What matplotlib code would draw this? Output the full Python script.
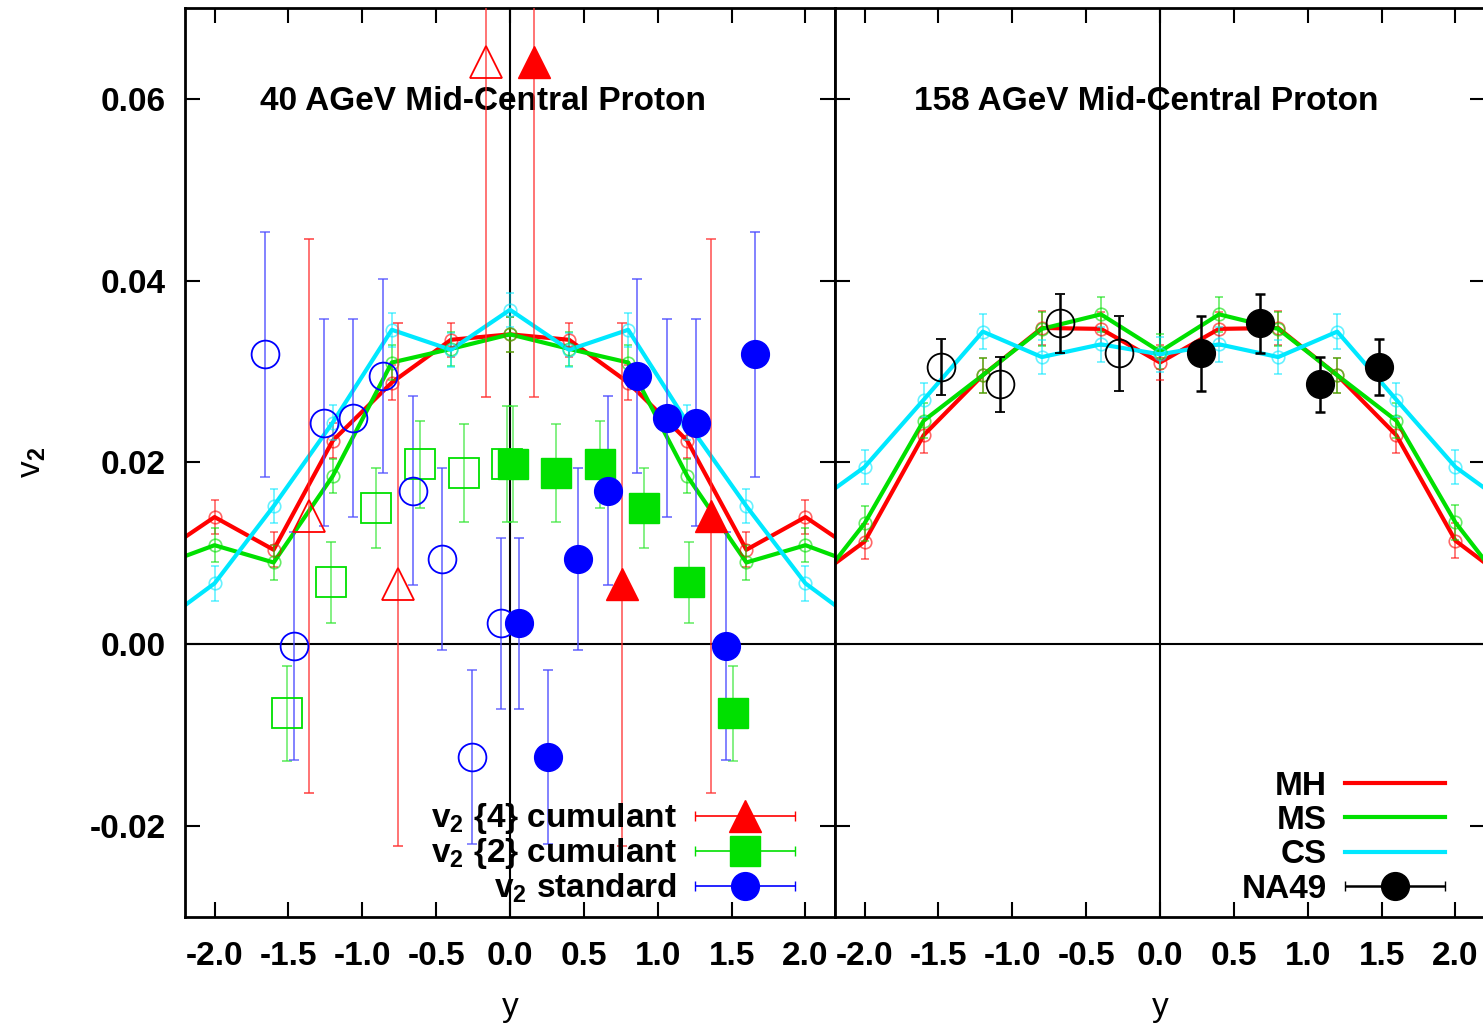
import numpy as np
import matplotlib
matplotlib.use('Agg')
import matplotlib.pyplot as plt
from matplotlib.container import ErrorbarContainer
from matplotlib.legend_handler import HandlerErrorbar
from matplotlib.lines import Line2D
from matplotlib.ticker import FormatStrFormatter

plt.rcParams['font.family'] = ['Liberation Sans', 'DejaVu Sans']
plt.rcParams['font.weight'] = 'bold'
plt.rcParams['mathtext.fontset'] = 'custom'
plt.rcParams['mathtext.rm'] = 'Liberation Sans:bold'
plt.rcParams['mathtext.it'] = 'Liberation Sans:bold'
plt.rcParams['mathtext.bf'] = 'Liberation Sans:bold'

# model rapidity grid (the +-2.4 points only set where the lines leave the frame)
y_model = [-2.4, -2.0, -1.6, -1.2, -0.8, -0.4, 0.0, 0.4, 0.8, 1.2, 1.6, 2.0, 2.4]

mh_40 = [0.0096, 0.0140, 0.0104, 0.0224, 0.0288, 0.0335, 0.0341, 0.0335, 0.0288, 0.0224, 0.0104, 0.0140, 0.0096]
ms_40 = [0.0085, 0.0109, 0.0090, 0.0185, 0.0310, 0.0325, 0.0341, 0.0325, 0.0310, 0.0185, 0.0090, 0.0109, 0.0085]
cs_40 = [0.0019, 0.0067, 0.0152, 0.0244, 0.0346, 0.0324, 0.0368, 0.0324, 0.0346, 0.0244, 0.0152, 0.0067, 0.0019]

mh_158 = [0.0065, 0.0113, 0.0230, 0.0296, 0.0348, 0.0347, 0.0310, 0.0347, 0.0348, 0.0296, 0.0230, 0.0114, 0.0065]
ms_158 = [0.0050, 0.0133, 0.0246, 0.0296, 0.0347, 0.0363, 0.0322, 0.0363, 0.0347, 0.0296, 0.0246, 0.0134, 0.0050]
cs_158 = [0.0148, 0.0195, 0.0269, 0.0344, 0.0316, 0.0330, 0.0319, 0.0330, 0.0316, 0.0344, 0.0269, 0.0195, 0.0148]
model_err = 0.0019

# 40 AGeV data, measured at y>0 (filled); open symbols are the reflection
y_std = [0.06, 0.26, 0.46, 0.66, 0.86, 1.06, 1.26, 1.46, 1.66]
v2_std = [0.0023, -0.0124, 0.0094, 0.0169, 0.0295, 0.0249, 0.0244, -0.0002, 0.0319]
err_std = [0.0094, 0.0096, 0.0100, 0.0104, 0.0107, 0.0109, 0.0114, 0.0125, 0.0135]

y_c2 = [0.02, 0.31, 0.61, 0.91, 1.21, 1.51]
v2_c2 = [0.0198, 0.0188, 0.0198, 0.0150, 0.0068, -0.0076]
err_c2 = [0.0064, 0.0054, 0.0048, 0.0044, 0.0045, 0.0052]

y_c4 = [0.16, 0.76, 1.36]
v2_c4 = [0.0641, 0.0066, 0.0141]
err_c4 = [0.0369, 0.0288, 0.0305]

# NA49 158 AGeV
y_na49 = [0.28, 0.68, 1.08, 1.48]
v2_na49 = [0.0320, 0.0353, 0.0286, 0.0305]
err_na49 = [0.0041, 0.0032, 0.0030, 0.0031]

RED = '#ff0000'
GREEN = '#00e000'
CYAN = '#00e8ff'
BLUE = '#0000ff'

FS = 24

fig = plt.figure(figsize=(14.83, 10.24), dpi=100)
ax1 = fig.add_axes([185/1483, 107/1024, 650/1483, 909/1024])
ax2 = fig.add_axes([835/1483, 107/1024, 650/1483, 909/1024])


def models(ax, mh, ms, cs):
    for vals, col, name in ((mh, RED, 'MH'), (ms, GREEN, 'MS'), (cs, CYAN, 'CS')):
        ax.plot(y_model, vals, color=col, lw=3, zorder=2, label=name)
        ax.errorbar(y_model, vals, yerr=model_err, fmt='o', ms=9, mfc='none',
                    mec=col, mew=1.2, ecolor=col, elinewidth=1.2, capsize=3,
                    alpha=0.6, zorder=2)


def points(ax, x, v, e, marker, col, ecol, ms, lw=1.4):
    ax.errorbar(x, v, yerr=e, fmt=marker, ms=ms, color=col, mec=col,
                ecolor=ecol, elinewidth=lw, capsize=3.6, capthick=lw, zorder=4)
    h = ax.errorbar(np.negative(x), v, yerr=e, fmt=marker, ms=ms, mfc='none',
                    mec=col, mew=1.3, ecolor=ecol, elinewidth=lw, capsize=3.6,
                    capthick=lw, zorder=4)
    return h


for ax in (ax1, ax2):
    ax.set_xlim(-2.2, 2.2)
    ax.set_ylim(-0.03, 0.07)
    ax.set_xticks([-2.0, -1.5, -1.0, -0.5, 0.0, 0.5, 1.0, 1.5, 2.0])
    ax.set_yticks([-0.02, 0.0, 0.02, 0.04, 0.06])
    ax.xaxis.set_major_formatter(FormatStrFormatter('%.1f'))
    ax.yaxis.set_major_formatter(FormatStrFormatter('%.2f'))
    ax.tick_params(direction='in', length=11, width=1.5, top=True, right=True,
                   labelsize=FS, pad=14)
    ax.tick_params(axis='x', pad=17)
    for s in ax.spines.values():
        s.set_linewidth(2)
    ax.axhline(0, color='k', lw=1.5, zorder=1)
    ax.axvline(0, color='k', lw=1.5, zorder=1)
    ax.set_xlabel('y', fontsize=FS, labelpad=15)

ax2.tick_params(labelleft=False)
ax1.set_ylabel('v$_2$', fontsize=FS, labelpad=30)

models(ax1, mh_40, ms_40, cs_40)
models(ax2, mh_158, ms_158, cs_158)

points(ax1, y_c4, v2_c4, err_c4, '^', RED, (1, 0.2, 0.2, 0.8), 22.5, lw=1.2)
points(ax1, y_c2, v2_c2, err_c2, 's', GREEN, (0.2, 0.9, 0.2, 0.7), 21, lw=1.2)
points(ax1, y_std, v2_std, err_std, 'o', BLUE, (0.3, 0.3, 1, 0.7), 20)
points(ax2, y_na49, v2_na49, err_na49, 'o', 'k', 'k', 20, lw=1.8)

ax1.text(-0.18, 0.0597, '40 AGeV Mid-Central Proton', ha='center', va='center', fontsize=FS)
ax2.text(-0.09, 0.0597, '158 AGeV Mid-Central Proton', ha='center', va='center', fontsize=FS)

# legend proxies drawn with horizontal bars
nan = [np.nan]
p4 = ax1.errorbar(nan, nan, xerr=[1], fmt='^', ms=22.5, color=RED, ecolor=RED,
                  elinewidth=1.2, capsize=3.6)
p2 = ax1.errorbar(nan, nan, xerr=[1], fmt='s', ms=21, color=GREEN, ecolor=GREEN,
                  elinewidth=1.2, capsize=3.6)
ps = ax1.errorbar(nan, nan, xerr=[1], fmt='o', ms=20, color=BLUE, ecolor=BLUE,
                  elinewidth=1.2, capsize=3.6)
pn = ax2.errorbar(nan, nan, xerr=[1], fmt='o', ms=20, color='k', ecolor='k',
                  elinewidth=1.8, capsize=3.6)

hmap = {ErrorbarContainer: HandlerErrorbar(xerr_size=1.5)}
ax1.legend([p4, p2, ps], ['v$_2$ {4} cumulant', 'v$_2$ {2} cumulant', 'v$_2$ standard'],
           loc='lower right', bbox_to_anchor=(0.975, -0.012), frameon=False,
           markerfirst=False, fontsize=FS, handlelength=3.0, handletextpad=0.55,
           labelspacing=0.0, borderpad=0.2, handler_map=hmap)
ax2.legend([Line2D([], [], color=RED, lw=3), Line2D([], [], color=GREEN, lw=3),
            Line2D([], [], color=CYAN, lw=3), pn],
           ['MH', 'MS', 'CS', 'NA49'],
           loc='lower right', bbox_to_anchor=(0.975, -0.012), frameon=False,
           markerfirst=False, fontsize=FS, handlelength=3.0, handletextpad=0.55,
           labelspacing=0.1, borderpad=0.2, handler_map=hmap)

plt.savefig('out.png')
